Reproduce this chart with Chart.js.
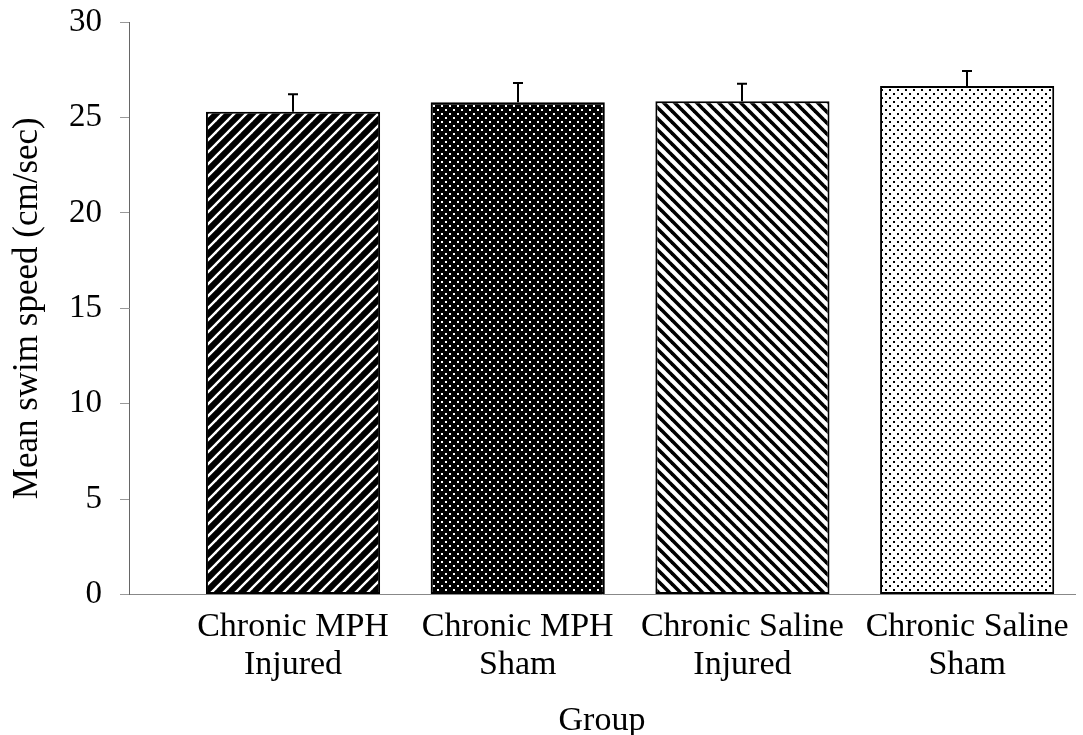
<!DOCTYPE html>
<html>
<head>
<meta charset="utf-8">
<script src="https://cdn.jsdelivr.net/npm/chart.js@4/dist/chart.umd.min.js"></script>
<style>
  html, body { margin: 0; padding: 0; background: #fff; }
  #wrap { width: 1083px; height: 735px; position: relative; }
</style>
</head>
<body>
<div id="wrap"><canvas id="c"></canvas></div>
<script>
// ---- data ----
const categories = [
  ["Chronic MPH", "Injured"],
  ["Chronic MPH", "Sham"],
  ["Chronic Saline", "Injured"],
  ["Chronic Saline", "Sham"]
];
const meanSpeed = [25.3, 25.8, 25.85, 26.65];
const errorUpper = [0.92, 1.0, 0.92, 0.78];
const yTicks = [0, 5, 10, 15, 20, 25, 30];
const yTitle = "Mean swim speed (cm/sec)";
const xTitle = "Group";

// ---- patterns ----
function makeTile(w, h, draw) {
  const c = document.createElement('canvas');
  c.width = w; c.height = h;
  const g = c.getContext('2d');
  draw(g, w, h);
  return document.getElementById('c').getContext('2d').createPattern(c, 'repeat');
}
function stripes(bg, fg, period, width, dir) {
  return makeTile(period, period, (g, w, h) => {
    g.fillStyle = bg; g.fillRect(0, 0, w, h);
    g.strokeStyle = fg; g.lineWidth = width; g.lineCap = 'square';
    const offs = [-w, 0, w];
    offs.forEach(o => {
      g.beginPath();
      if (dir === '/') { g.moveTo(o - 2, h + 2); g.lineTo(o + w + 2, -2); }
      else { g.moveTo(o - 2, -2); g.lineTo(o + w + 2, h + 2); }
      g.stroke();
    });
  });
}
function dots(bg, fg, size, period) {
  return makeTile(period, period, (g, w, h) => {
    g.fillStyle = bg; g.fillRect(0, 0, w, h);
    g.fillStyle = fg;
    g.fillRect(1, 1, size, size);
    g.fillRect(1 + period / 2, 1 + period / 2, size, size);
  });
}
const fills = [
  stripes('#000', '#fff', 12, 2.4, '/'),
  dots('#000', '#fff', 2, 8),
  stripes('#fff', '#000', 11, 3.6, '\\'),
  dots('#fff', '#000', 2, 8)
];

const serif = "'Liberation Serif', 'Times New Roman', Times, serif";

const errorBars = {
  id: 'errorBars',
  afterDatasetsDraw(chart) {
    const ctx = chart.ctx;
    const meta = chart.getDatasetMeta(0);
    const ys = chart.scales.y;
    ctx.save();
    ctx.strokeStyle = '#000';
    ctx.lineWidth = 2;
    meta.data.forEach((bar, i) => {
      const x = Math.round(bar.x);
      const yb = ys.getPixelForValue(meanSpeed[i]);
      const yt = ys.getPixelForValue(meanSpeed[i] + errorUpper[i]);
      ctx.beginPath();
      ctx.moveTo(x, yb); ctx.lineTo(x, yt);
      ctx.moveTo(x - 5, yt); ctx.lineTo(x + 5, yt);
      ctx.stroke();
    });
    ctx.restore();
  }
};

new Chart(document.getElementById('c'), {
  type: 'bar',
  data: {
    datasets: [{
      data: meanSpeed.map((v, i) => ({ x: i + 1, y: v })),
      backgroundColor: fills,
      borderColor: '#000',
      borderWidth: 2,
      borderSkipped: false,
      barPercentage: 0.775,
      categoryPercentage: 1.0
    }]
  },
  options: {
    responsive: true,
    maintainAspectRatio: false,
    animation: false,
    layout: { padding: { top: 22, right: 8, bottom: 0, left: 0 } },
    plugins: { legend: { display: false }, tooltip: { enabled: false } },
    scales: {
      x: {
        type: 'linear',
        offset: false,
        min: 0.27,
        max: 4.48,
        afterBuildTicks(scale) { scale.ticks = categories.map((_, i) => ({ value: i + 1 })); },
        afterFit(scale) {
          scale.height = 140.5;
          scale.paddingLeft = 0; scale.paddingRight = 0;
        },
        ticks: {
          color: '#000',
          autoSkip: false,
          maxRotation: 0,
          padding: 13.5,
          font: { family: serif, size: 34, lineHeight: 1.12 },
          callback: (v) => categories[Math.round(v) - 1] || ''
        },
        grid: { display: true, drawOnChartArea: false, drawTicks: false },
        border: { display: true, color: '#888', width: 1 },
        title: {
          display: true, text: xTitle, color: '#000',
          font: { family: serif, size: 34, lineHeight: 0.82 },
          padding: { top: 0, bottom: 0 }
        }
      },
      y: {
        min: 0,
        max: 30,
        afterBuildTicks(scale) { scale.ticks = yTicks.map(v => ({ value: v })); },
        afterFit(scale) {
          scale.width = 129;
          scale.paddingTop = 0; scale.paddingBottom = 0;
        },
        ticks: {
          color: '#000',
          padding: 18,
          font: { family: serif, size: 33 },
          callback: (v) => String(v)
        },
        grid: { display: true, drawOnChartArea: false, drawTicks: true, tickLength: 9, color: '#999' },
        border: { display: true, color: '#666', width: 1 },
        title: {
          display: true, text: yTitle, color: '#000',
          font: { family: serif, size: 35, lineHeight: 0.82 },
          padding: { top: 13, bottom: 0 }
        }
      }
    }
  },
  plugins: [errorBars]
});
</script>
</body>
</html>
